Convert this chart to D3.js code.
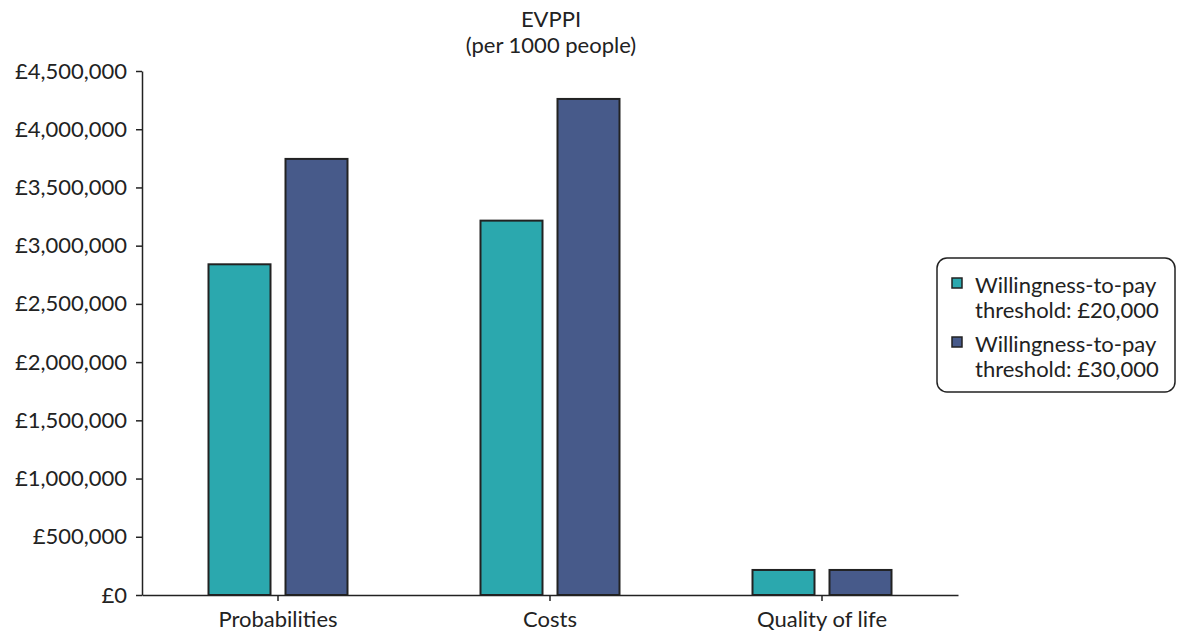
<!DOCTYPE html>
<html>
<head>
<meta charset="utf-8">
<script src="https://cdn.jsdelivr.net/npm/d3@7"></script>
<style>
  html, body { margin: 0; padding: 0; background: #fff; }
  svg { display: block; font-family: Lato, "Open Sans", sans-serif; }
</style>
</head>
<body>
<svg id="chart" width="1178" height="635"></svg>
<script>
// EVPPI per 1000 people, by parameter group
const categories = ["Probabilities", "Costs", "Quality of life"];
const seriesNames = ["Willingness-to-pay\nthreshold: £20,000", "Willingness-to-pay\nthreshold: £30,000"];
const wtp20000 = [2840000, 3215000, 215000];
const wtp30000 = [3745000, 4260000, 215000];
const yTicks = [0, 500000, 1000000, 1500000, 2000000, 2500000, 3000000, 3500000, 4000000, 4500000];
const colors = ["#2ba8ae", "#475a8a"];

const FS = 22;
const svg = d3.select("#chart");
const margin = { left: 142, right: 220, top: 71, bottom: 40 };
const W = 1178, H = 635;
const plotBottom = H - margin.bottom;

const x = d3.scaleBand().domain(categories).range([margin.left, W - margin.right]);
const y = d3.scaleLinear().domain([0, 4500000]).range([plotBottom, margin.top]);

const fmt = v => "£" + d3.format(",")(v);

// title
const title = svg.append("text").attr("text-anchor", "middle")
  .attr("font-size", FS).attr("fill", "#222");
title.append("tspan").attr("x", 551).attr("y", 27).text("EVPPI");
title.append("tspan").attr("x", 551).attr("y", 53).text("(per 1000 people)");

// bars: two per category, either side of the band centre
const barW = 62, offset = [-38.5, 38.5];
const series = [wtp20000, wtp30000];
series.forEach((vals, si) => {
  svg.append("g").selectAll("rect").data(categories).join("rect")
    .attr("x", c => x(c) + x.bandwidth() / 2 + offset[si] - barW / 2)
    .attr("y", (c, i) => y(vals[i]))
    .attr("width", barW)
    .attr("height", (c, i) => y(0) - y(vals[i]))
    .attr("fill", colors[si])
    .attr("stroke", "#222")
    .attr("stroke-width", 2);
});

// y axis
const yAxis = svg.append("g").attr("transform", `translate(${margin.left},0)`)
  .call(d3.axisLeft(y).tickValues(yTicks).tickFormat(fmt).tickSize(6).tickSizeOuter(0).tickPadding(9));
yAxis.attr("font-family", null).attr("font-size", null);
yAxis.selectAll("text").attr("font-size", FS).attr("fill", "#222");
yAxis.selectAll("line, path").attr("stroke", "#222").attr("stroke-width", 1.5);

// x axis
const xAxis = svg.append("g").attr("transform", `translate(0,${plotBottom})`)
  .call(d3.axisBottom(x).tickSize(6).tickSizeOuter(0).tickPadding(10));
xAxis.attr("font-family", null).attr("font-size", null);
xAxis.selectAll("text").attr("font-size", FS).attr("fill", "#222");
xAxis.selectAll("line, path").attr("stroke", "#222").attr("stroke-width", 1.5);

// legend
const lg = svg.append("g");
lg.append("rect").attr("x", 937).attr("y", 258).attr("width", 238).attr("height", 134)
  .attr("rx", 10).attr("fill", "#fff").attr("stroke", "#222").attr("stroke-width", 1.5);
seriesNames.forEach((name, i) => {
  const y0 = 293 + i * 59;
  lg.append("rect").attr("x", 952).attr("y", y0 - 15).attr("width", 10).attr("height", 10)
    .attr("fill", colors[i]).attr("stroke", "#222").attr("stroke-width", 1.5);
  const t = lg.append("text").attr("font-size", FS).attr("fill", "#222");
  name.split("\n").forEach((line, j) => {
    t.append("tspan").attr("x", 975).attr("y", y0 + j * 25).text(line);
  });
});
</script>
</body>
</html>
